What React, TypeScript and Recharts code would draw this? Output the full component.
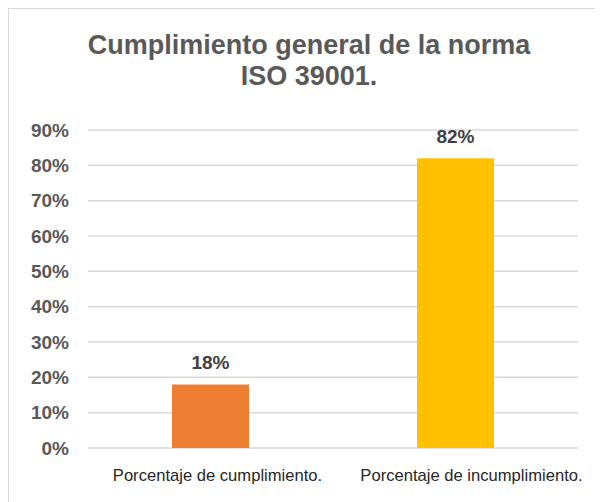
import { Bar, BarChart, CartesianGrid, Cell, LabelList, XAxis, YAxis } from "recharts";

const categories = ["Porcentaje de cumplimiento.", "Porcentaje de incumplimiento."];
const values = [0.18, 0.82];
const barColors = ["#ED7D31", "#FFC000"];
const yTicks = [0, 0.1, 0.2, 0.3, 0.4, 0.5, 0.6, 0.7, 0.8, 0.9];

const data = categories.map((name, i) => ({ name, value: values[i] }));

const font = "'Liberation Sans', Arial, sans-serif";
const pct = (v: number) => `${Math.round(v * 100)}%`;

// the source labels sit a little right of their bars
const labelShift = [7, 16];

function CategoryTick({ x, y, payload, index }: any) {
  return (
    <text
      x={x + (labelShift[index] ?? 0)}
      y={y}
      dy="0.71em"
      textAnchor="middle"
      fill="#262626"
      fontSize={16.6}
      fontFamily={font}
    >
      {payload.value}
    </text>
  );
}

export default function App() {
  return (
    <div
      style={{
        position: "relative",
        width: 594,
        height: 493,
        borderTop: "1px solid #d9d9d9",
        borderLeft: "1px solid #d9d9d9",
        fontFamily: font,
      }}
    >
      <div
        style={{
          position: "absolute",
          left: 0,
          top: 21,
          width: 600,
          textAlign: "center",
          color: "#595959",
          fontWeight: 700,
          fontSize: 27,
          lineHeight: "31px",
        }}
      >
        Cumplimiento general de la norma
        <br />
        ISO 39001.
      </div>
      <BarChart
        width={594}
        height={493}
        data={data}
        margin={{ top: 121, right: 25, left: 0, bottom: 0 }}
        barSize={77}
      >
        <CartesianGrid vertical={false} stroke="#d9d9d9" strokeWidth={1.5} />
        <XAxis
          dataKey="name"
          axisLine={false}
          tickLine={false}
          tickMargin={15}
          height={54}
          interval={0}
          tick={<CategoryTick />}
        />
        <YAxis
          domain={[0, 0.9]}
          ticks={yTicks}
          tickFormatter={pct}
          axisLine={false}
          tickLine={false}
          tickMargin={13}
          width={79}
          tick={{ fill: "#595959", fontSize: 19, fontWeight: 700, fontFamily: font }}
        />
        <Bar dataKey="value" isAnimationActive={false}>
          {data.map((d, i) => (
            <Cell key={d.name} fill={barColors[i]} />
          ))}
          <LabelList
            dataKey="value"
            position="top"
            offset={15}
            formatter={(v: any) => pct(Number(v))}
            fill="#404040"
            style={{ fontSize: 19, fontWeight: 700, fontFamily: font }}
          />
        </Bar>
      </BarChart>
    </div>
  );
}
